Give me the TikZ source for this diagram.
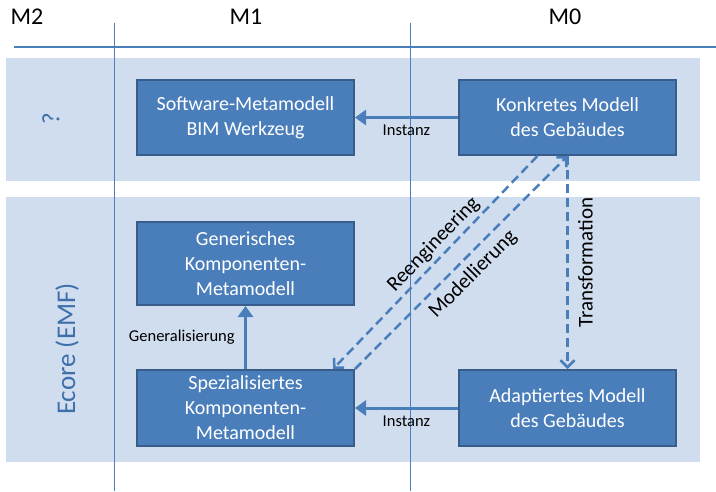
\documentclass[tikz,border=0pt]{standalone}
\usepackage{fontspec}
\setmainfont{Carlito}
\usetikzlibrary{arrows.meta}
\definecolor{bandblue}{HTML}{D0DDEE}
\definecolor{boxblue}{HTML}{4A7EBB}
\definecolor{boxline}{HTML}{385D8A}
\definecolor{lineblue}{HTML}{4A7EBB}
\definecolor{layerblue}{HTML}{3E6FAA}
\begin{document}
\begin{tikzpicture}[x=1pt, y=-1pt,
    band/.style={fill=bandblue, draw=none},
    modelbox/.style={draw=boxline, line width=2pt, fill=boxblue, text=white,
      minimum width=217pt, align=center, inner sep=2pt,
      font=\fontsize{20}{25}\selectfont},
    header/.style={font=\fontsize{24}{28}\selectfont},
    layer/.style={rotate=90, text=layerblue},
    instarrow/.style={draw=lineblue, line width=3pt, -{Triangle[width=15pt,length=11pt]}},
    dasharrow/.style={draw=lineblue, line width=2.5pt, dash pattern=on 9pt off 5pt,
      -{Straight Barb[width=14pt,length=7pt]}},
    smalllabel/.style={font=\fontsize{16.5}{19}\selectfont, text=black},
    slopelabel/.style={font=\fontsize{21}{24}\selectfont, text=black}]
	\useasboundingbox (0,0) rectangle (716,491);
	
	% Ebenen
	\fill[band] (6,58) rectangle (700,181);
	\fill[band] (6,197) rectangle (700,462);
	
	\coordinate (H1) at (14,47);
	\coordinate (H2) at (716,47);
	\coordinate (V1) at (114,23);
	\coordinate (V2) at (114,491);
	\coordinate (W1) at (410,23);
	\coordinate (W2) at (410,491);
	\draw[lineblue, line width=1.5pt] (H1) -- (H2);
	\draw[lineblue, line width=1pt] (V1) -- (V2);
	\draw[lineblue, line width=1pt] (W1) -- (W2);
	
	\node[header] (m2) at (27,17) {M2};
	\node[header] (m1) at (246,17) {M1};
	\node[header] (m0) at (565,17) {M0};
	
	\node[layer, font=\fontsize{25}{28}\selectfont] (unbekannt) at (51,119) {?};
	\node[layer, font=\fontsize{27}{32}\selectfont] (ecore) at (67,349) {Ecore (EMF)};
	
	% Modelle
	\node[modelbox, minimum height=75pt] (software) at (245.5,117.5) {Software-Metamodell\\BIM Werkzeug};
	\node[modelbox, minimum height=75pt] (konkret) at (567.5,117.5) {Konkretes Modell\\des Gebäudes};
	\node[modelbox, minimum height=83pt] (generisch) at (245.5,263.5) {Generisches\\Komponenten-\\Metamodell};
	\node[modelbox, minimum height=76pt] (spezial) at (245.5,408) {Spezialisiertes\\Komponenten-\\Metamodell};
	\node[modelbox, minimum height=76pt] (adaptiert) at (567.5,408) {Adaptiertes Modell\\des Gebäudes};
	
	\draw[instarrow] (konkret) -- (software) node[midway, below=3pt, smalllabel] {Instanz};
	\draw[instarrow] (adaptiert) -- (spezial) node[midway, below=3pt, smalllabel] {Instanz};
	\draw[instarrow] (spezial) -- (generisch) node[midway, left=6pt, smalllabel] {Generalisierung};
	
	\draw[dasharrow] (konkret.south) -- (adaptiert.north);
	\path (adaptiert.north) -- (konkret.south) node[midway, sloped, below=7pt, slopelabel] {Transformation};
	\draw[dasharrow] (spezial.north east) -- (konkret.south)
		node[midway, sloped, below=3pt, slopelabel] {Modellierung};
	\draw[dasharrow] (konkret.232) -- (spezial.24)
		node[pos=0.46, sloped, above=0pt, slopelabel] {Reengineering};
\end{tikzpicture}
\end{document}
